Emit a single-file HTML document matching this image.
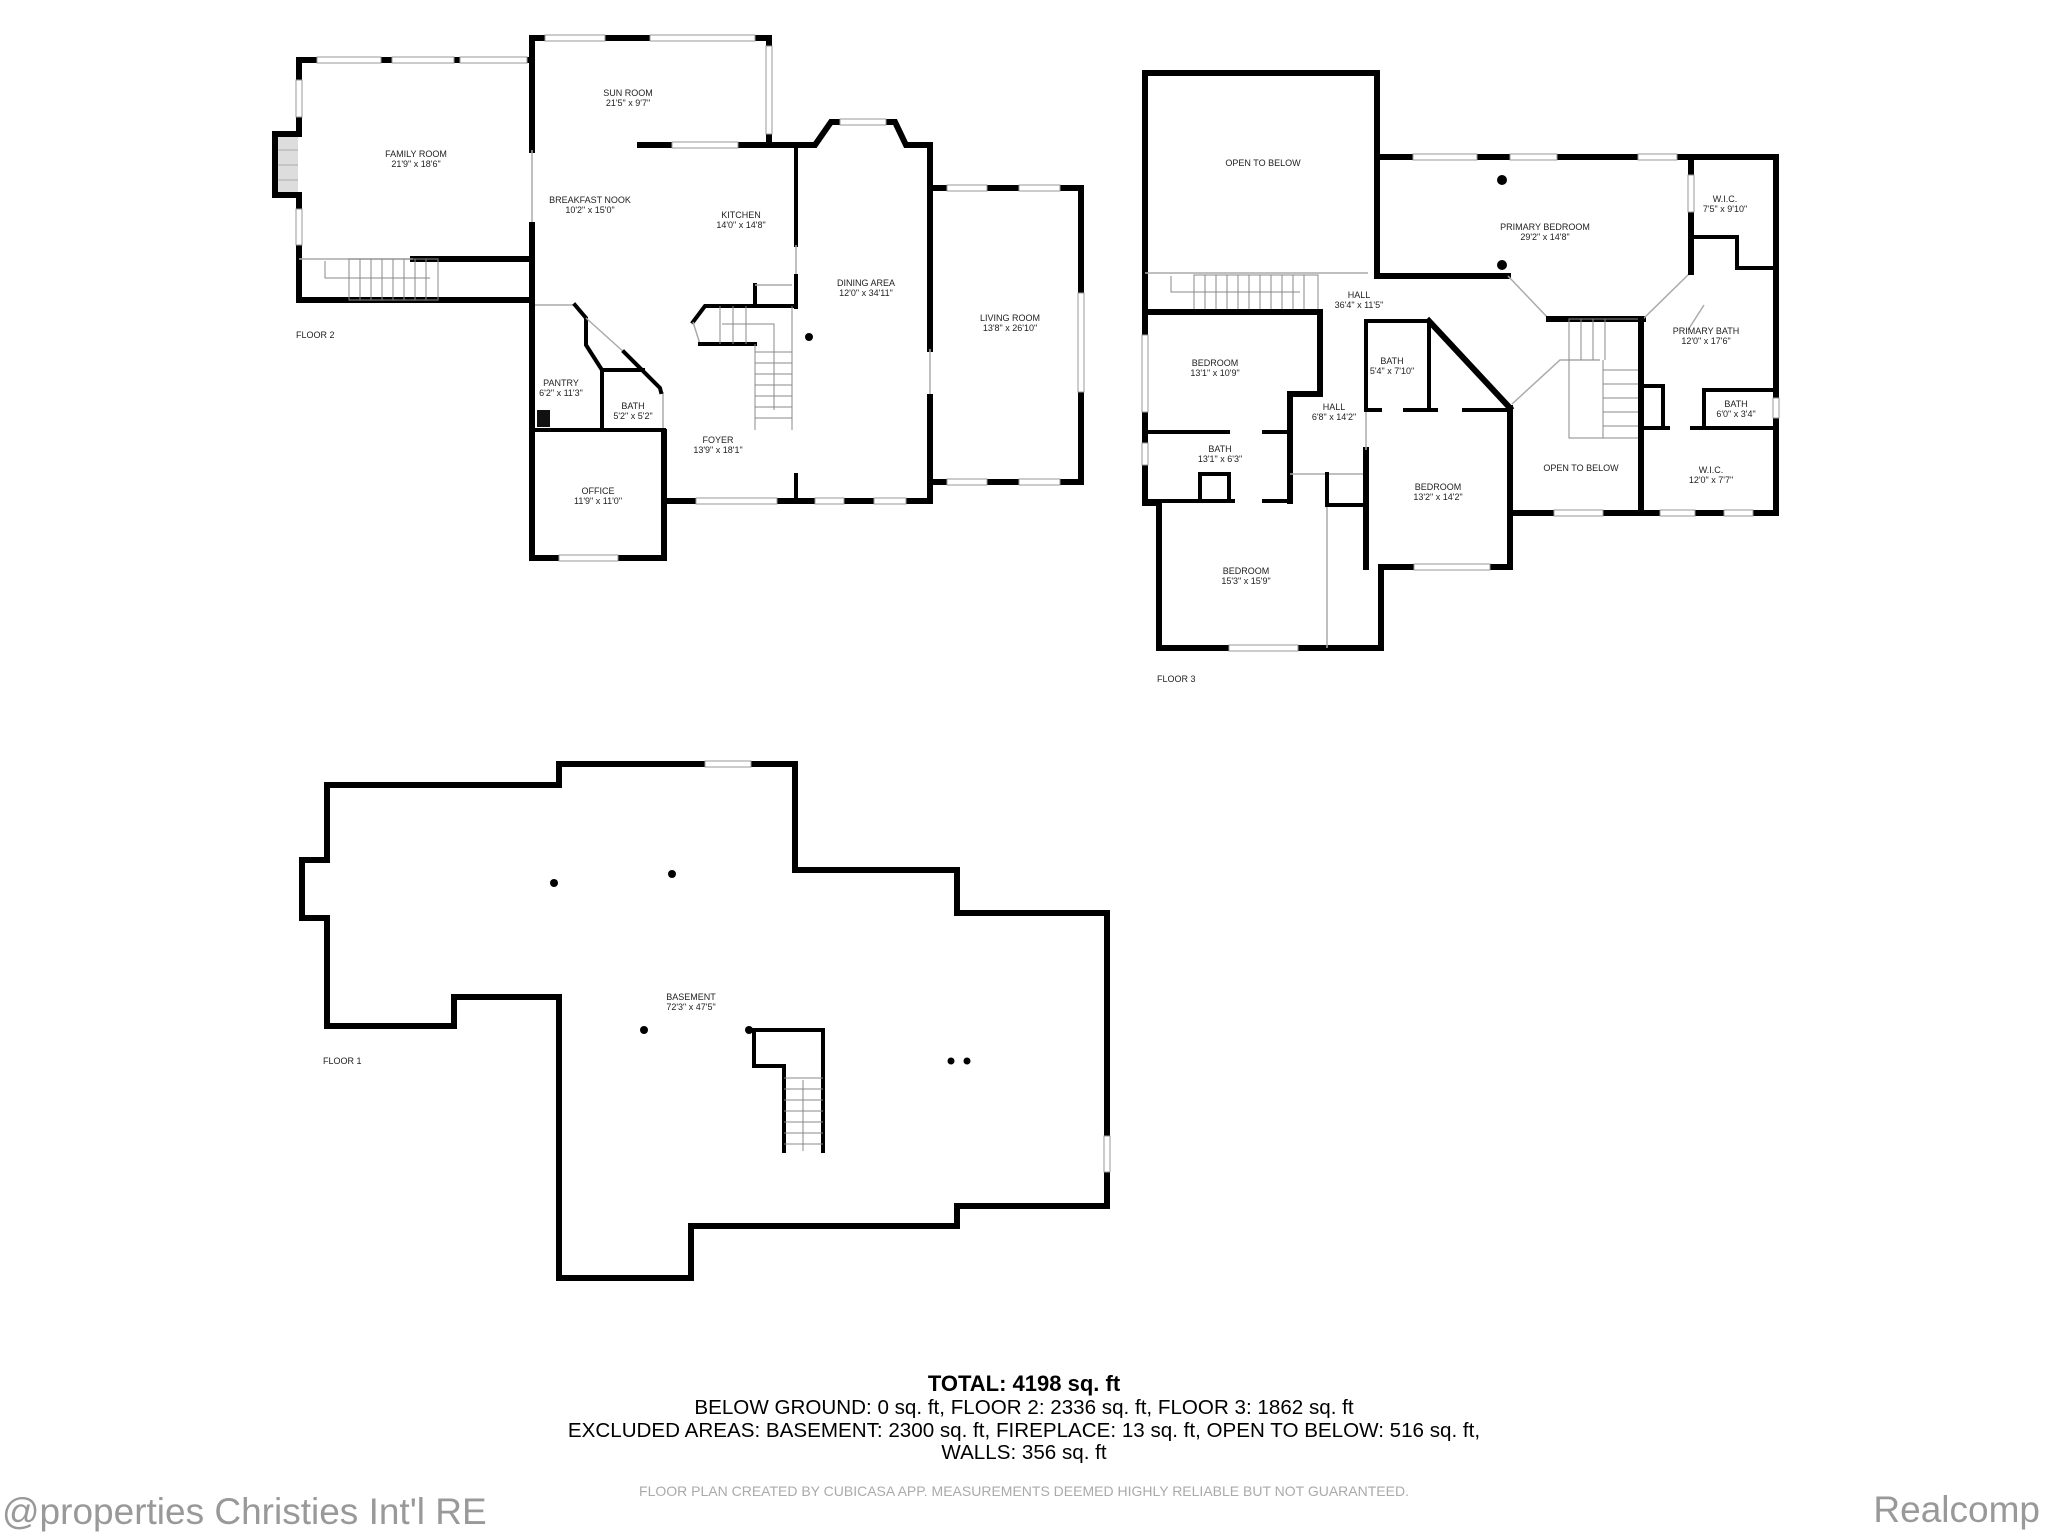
<!DOCTYPE html>
<html><head><meta charset="utf-8"><style>
html,body{margin:0;padding:0;background:#fff;}
svg{display:block;}
.w{fill:none;stroke:#000;stroke-width:6;stroke-linecap:square;stroke-linejoin:miter;}
.t{fill:none;stroke:#000;stroke-width:4;stroke-linecap:square;}
.th{fill:none;stroke:#aaa;stroke-width:1.5;}
.win{fill:#fff;stroke:#999;stroke-width:1;}
.st{fill:none;stroke:#888;stroke-width:1;}
text{font-family:"Liberation Sans",sans-serif;fill:#222;}
.l{font-size:9px;text-anchor:middle;}
</style></head><body>
<svg width="2048" height="1536" viewBox="0 0 2048 1536" xmlns="http://www.w3.org/2000/svg">
<rect width="2048" height="1536" fill="#fff"/>

<!-- ============ FLOOR 2 ============ -->
<rect x="278" y="137" width="20" height="55" fill="#ddd"/>
<g stroke="#aaa" stroke-width="1"><line x1="278" y1="150" x2="298" y2="150"/><line x1="278" y1="165" x2="298" y2="165"/><line x1="278" y1="180" x2="298" y2="180"/></g>
<polyline class="w" points="532,60 299,60 299,134 275,134 275,195 299,195 299,300 532,300"/>
<line class="w" x1="413" y1="259" x2="532" y2="259"/>
<line class="th" x1="299" y1="259" x2="413" y2="259"/>
<rect x="349" y="259" width="89" height="41" class="st"/>
<g class="st"><line x1="360" y1="259" x2="360" y2="300"/><line x1="371" y1="259" x2="371" y2="300"/><line x1="382" y1="259" x2="382" y2="300"/><line x1="393" y1="259" x2="393" y2="300"/><line x1="404" y1="259" x2="404" y2="300"/><line x1="415" y1="259" x2="415" y2="300"/><line x1="426" y1="259" x2="426" y2="300"/><polyline points="325,261 325,278 430,278"/></g>
<polyline class="w" points="532,38 769,38 769,145"/>
<line class="w" x1="532" y1="38" x2="532" y2="150"/>
<line class="th" x1="532" y1="150" x2="532" y2="225"/>
<line class="w" x1="532" y1="225" x2="532" y2="300"/>
<polyline class="w" points="640,145 815,145 831,122 895,122 906,145 930,145 930,349"/>
<line class="th" x1="930" y1="349" x2="930" y2="397"/>
<polyline class="w" points="930,397 930,501 664,501 664,432"/>
<polyline class="w" points="930,188 1081,188 1081,482 930,482"/>
<line class="t" x1="796" y1="148" x2="796" y2="245"/>
<line class="th" x1="796" y1="245" x2="796" y2="276"/>
<line class="t" x1="796" y1="276" x2="796" y2="307"/>
<line class="t" x1="796" y1="475" x2="796" y2="501"/>
<polyline class="w" points="532,300 532,558 664,558 664,470"/>
<line class="th" x1="663" y1="392" x2="663" y2="432"/>
<line class="t" x1="532" y1="430" x2="664" y2="430"/>
<line class="th" x1="535" y1="305" x2="575" y2="305"/>
<polyline class="t" points="575,305 586,318 586,345 602,370 602,430"/>
<line class="t" x1="602" y1="370" x2="643" y2="370"/>
<line class="th" x1="586" y1="318" x2="626" y2="354"/>
<polyline class="t" points="624,352 660,388 661,392"/>
<rect x="537" y="410" width="13" height="17" fill="#111"/>
<polyline class="t" points="792,306 705,306 693,322 "/>
<line class="th" x1="693" y1="322" x2="700" y2="344"/>
<line class="t" x1="700" y1="344" x2="755" y2="344"/>
<line class="t" x1="755" y1="285" x2="755" y2="306"/>
<line class="th" x1="755" y1="285" x2="792" y2="285"/>
<g class="st">
<line x1="755" y1="344" x2="755" y2="430"/><line x1="792" y1="306" x2="792" y2="430"/>
<line x1="720" y1="306" x2="720" y2="344"/><line x1="733" y1="306" x2="733" y2="344"/><line x1="746" y1="306" x2="746" y2="344"/>
<line x1="755" y1="352" x2="792" y2="352"/><line x1="755" y1="363" x2="792" y2="363"/><line x1="755" y1="374" x2="792" y2="374"/><line x1="755" y1="385" x2="792" y2="385"/><line x1="755" y1="396" x2="792" y2="396"/><line x1="755" y1="407" x2="792" y2="407"/><line x1="755" y1="418" x2="792" y2="418"/>
<polyline points="774,410 774,324 722,324"/>
</g>
<circle cx="809" cy="337" r="4" fill="#000"/>
<g class="win">
<rect x="317" y="57" width="64" height="6"/><rect x="392" y="57" width="62" height="6"/><rect x="460" y="57" width="67" height="6"/>
<rect x="296" y="80" width="6" height="37"/><rect x="296" y="209" width="6" height="36"/>
<rect x="545" y="35" width="60" height="6"/><rect x="650" y="35" width="105" height="6"/>
<rect x="766" y="46" width="6" height="88"/>
<rect x="672" y="142" width="66" height="6"/>
<rect x="840" y="119" width="46" height="6"/>
<rect x="947" y="185" width="40" height="6"/><rect x="1019" y="185" width="41" height="6"/>
<rect x="947" y="479" width="40" height="6"/><rect x="1019" y="479" width="41" height="6"/>
<rect x="1078" y="293" width="6" height="99"/>
<rect x="696" y="498" width="81" height="6"/><rect x="815" y="498" width="29" height="6"/><rect x="874" y="498" width="32" height="6"/>
<rect x="559" y="555" width="59" height="6"/>
</g>
<g class="l">
<text x="416" y="157">FAMILY ROOM</text><text x="416" y="167">21'9" x 18'6"</text>
<text x="628" y="96">SUN ROOM</text><text x="628" y="106">21'5" x 9'7"</text>
<text x="590" y="203">BREAKFAST NOOK</text><text x="590" y="213">10'2" x 15'0"</text>
<text x="741" y="218">KITCHEN</text><text x="741" y="228">14'0" x 14'8"</text>
<text x="866" y="286">DINING AREA</text><text x="866" y="296">12'0" x 34'11"</text>
<text x="1010" y="321">LIVING ROOM</text><text x="1010" y="331">13'8" x 26'10"</text>
<text x="561" y="386">PANTRY</text><text x="561" y="396">6'2" x 11'3"</text>
<text x="633" y="409">BATH</text><text x="633" y="419">5'2" x 5'2"</text>
<text x="718" y="443">FOYER</text><text x="718" y="453">13'9" x 18'1"</text>
<text x="598" y="494">OFFICE</text><text x="598" y="504">11'9" x 11'0"</text>
</g>
<text x="296" y="338" style="font-size:9px">FLOOR 2</text>

<!-- ============ FLOOR 3 ============ -->
<polyline class="w" points="1377,157 1377,73 1145,73 1145,503 1159,503 1159,648 1381,648 1381,567 1510,567 1510,513 1776,513 1776,157 1377,157"/>
<polyline class="w" points="1377,157 1377,276 1508,276"/>
<line class="th" x1="1508" y1="276" x2="1549" y2="319"/>
<line class="w" x1="1549" y1="319" x2="1643" y2="319"/>
<line class="th" x1="1643" y1="319" x2="1691" y2="272"/>
<line class="w" x1="1691" y1="157" x2="1691" y2="272"/>
<polyline class="t" points="1693,237 1737,237 1737,268 1776,268"/>
<line class="th" x1="1145" y1="273" x2="1368" y2="273"/>
<g class="st">
<rect x="1194" y="275" width="124" height="35"/>
<line x1="1205" y1="275" x2="1205" y2="310"/><line x1="1216" y1="275" x2="1216" y2="310"/><line x1="1227" y1="275" x2="1227" y2="310"/><line x1="1238" y1="275" x2="1238" y2="310"/><line x1="1249" y1="275" x2="1249" y2="310"/><line x1="1260" y1="275" x2="1260" y2="310"/><line x1="1271" y1="275" x2="1271" y2="310"/><line x1="1282" y1="275" x2="1282" y2="310"/><line x1="1293" y1="275" x2="1293" y2="310"/><line x1="1304" y1="275" x2="1304" y2="310"/>
<polyline points="1171,276 1171,292 1300,292"/>
</g>
<polyline class="w" points="1145,312 1320,312 1320,394 1290,394 1290,501"/>
<line class="t" x1="1145" y1="432" x2="1228" y2="432"/>
<line class="t" x1="1264" y1="432" x2="1290" y2="432"/>
<line class="t" x1="1145" y1="501" x2="1233" y2="501"/>
<line class="t" x1="1264" y1="501" x2="1290" y2="501"/>
<polyline class="t" points="1200,501 1200,474 1229,474 1229,501"/>
<line class="th" x1="1290" y1="474" x2="1366" y2="474"/>
<line class="t" x1="1327" y1="474" x2="1327" y2="505"/>
<line class="th" x1="1327" y1="505" x2="1327" y2="648"/>
<line class="t" x1="1327" y1="505" x2="1366" y2="505"/>
<polyline class="w" points="1366,567 1366,450"/>
<line class="th" x1="1366" y1="410" x2="1366" y2="450"/>
<polyline class="t" points="1366,410 1366,321 1429,321 1429,410"/>
<line class="t" x1="1366" y1="410" x2="1380" y2="410"/>
<line class="t" x1="1405" y1="410" x2="1436" y2="410"/>
<line class="t" x1="1464" y1="410" x2="1510" y2="410"/>
<line class="w" x1="1429" y1="321" x2="1510" y2="408"/>
<line class="w" x1="1510" y1="408" x2="1510" y2="567"/>
<polyline class="th" points="1512,404 1560,360 1600,360"/>
<g class="st">
<rect x="1569" y="319" width="72" height="119"/>
<line x1="1581" y1="319" x2="1581" y2="360"/><line x1="1593" y1="319" x2="1593" y2="360"/><line x1="1605" y1="319" x2="1605" y2="360"/>
<line x1="1603" y1="370" x2="1641" y2="370"/><line x1="1603" y1="384" x2="1641" y2="384"/><line x1="1603" y1="398" x2="1641" y2="398"/><line x1="1603" y1="412" x2="1641" y2="412"/><line x1="1603" y1="426" x2="1641" y2="426"/>
<line x1="1603" y1="360" x2="1603" y2="438"/>
</g>
<line class="w" x1="1641" y1="319" x2="1641" y2="513"/>
<polyline class="t" points="1641,386 1663,386 1663,428"/>
<line class="t" x1="1641" y1="428" x2="1668" y2="428"/>
<line class="t" x1="1692" y1="428" x2="1776" y2="428"/>
<polyline class="t" points="1704,428 1704,390 1776,390"/>
<line class="th" x1="1704" y1="305" x2="1688" y2="330"/>
<circle cx="1502" cy="180" r="5" fill="#000"/><circle cx="1502" cy="265" r="5" fill="#000"/>
<g class="win">
<rect x="1413" y="154" width="64" height="6"/><rect x="1510" y="154" width="47" height="6"/><rect x="1638" y="154" width="39" height="6"/>
<rect x="1142" y="335" width="6" height="77"/><rect x="1142" y="443" width="6" height="22"/>
<rect x="1554" y="510" width="49" height="6"/><rect x="1660" y="510" width="35" height="6"/><rect x="1724" y="510" width="29" height="6"/>
<rect x="1414" y="564" width="76" height="6"/><rect x="1229" y="645" width="69" height="6"/>
<rect x="1773" y="398" width="6" height="20"/>
<rect x="1688" y="175" width="6" height="37"/>
</g>
<g class="l">
<text x="1263" y="166">OPEN TO BELOW</text>
<text x="1545" y="230">PRIMARY BEDROOM</text><text x="1545" y="240">29'2" x 14'8"</text>
<text x="1725" y="202">W.I.C.</text><text x="1725" y="212">7'5" x 9'10"</text>
<text x="1359" y="298">HALL</text><text x="1359" y="308">36'4" x 11'5"</text>
<text x="1215" y="366">BEDROOM</text><text x="1215" y="376">13'1" x 10'9"</text>
<text x="1392" y="364">BATH</text><text x="1392" y="374">5'4" x 7'10"</text>
<text x="1706" y="334">PRIMARY BATH</text><text x="1706" y="344">12'0" x 17'6"</text>
<text x="1334" y="410">HALL</text><text x="1334" y="420">6'8" x 14'2"</text>
<text x="1220" y="452">BATH</text><text x="1220" y="462">13'1" x 6'3"</text>
<text x="1736" y="407">BATH</text><text x="1736" y="417">6'0" x 3'4"</text>
<text x="1581" y="471">OPEN TO BELOW</text>
<text x="1711" y="473">W.I.C.</text><text x="1711" y="483">12'0" x 7'7"</text>
<text x="1438" y="490">BEDROOM</text><text x="1438" y="500">13'2" x 14'2"</text>
<text x="1246" y="574">BEDROOM</text><text x="1246" y="584">15'3" x 15'9"</text>
</g>
<text x="1157" y="682" style="font-size:9px">FLOOR 3</text>

<!-- ============ BASEMENT ============ -->
<polygon class="w" points="327,785 559,785 559,764 795,764 795,870 957,870 957,913 1107,913 1107,1206 957,1206 957,1226 691,1226 691,1278 559,1278 559,997 454,997 454,1026 327,1026 327,918 302,918 302,860 327,860"/>
<rect class="win" x="705" y="761" width="46" height="6"/>
<rect class="win" x="1104" y="1136" width="6" height="36"/>
<circle cx="554" cy="883" r="4" fill="#000"/><circle cx="672" cy="874" r="4" fill="#000"/>
<circle cx="644" cy="1030" r="4" fill="#000"/><circle cx="749" cy="1030" r="4" fill="#000"/>
<circle cx="951" cy="1061" r="3.5" fill="#000"/><circle cx="967" cy="1061" r="3.5" fill="#000"/>
<polyline class="t" points="754,1030 823,1030 823,1151"/>
<polyline class="t" points="754,1030 754,1066 784,1066 784,1151"/>
<g class="st">
<line x1="784" y1="1078" x2="823" y2="1078"/><line x1="784" y1="1089" x2="823" y2="1089"/><line x1="784" y1="1100" x2="823" y2="1100"/><line x1="784" y1="1111" x2="823" y2="1111"/><line x1="784" y1="1122" x2="823" y2="1122"/><line x1="784" y1="1133" x2="823" y2="1133"/><line x1="784" y1="1144" x2="823" y2="1144"/>
<line x1="803" y1="1080" x2="803" y2="1151"/>
</g>
<g class="l"><text x="691" y="1000">BASEMENT</text><text x="691" y="1010">72'3" x 47'5"</text></g>
<text x="323" y="1064" style="font-size:9px">FLOOR 1</text>

<!-- ============ TEXT ============ -->
<g style="text-anchor:middle;">
<text x="1024" y="1391" style="font-size:22px;font-weight:bold;fill:#000">TOTAL: 4198 sq. ft</text>
<text x="1024" y="1414" style="font-size:20.6px;fill:#000">BELOW GROUND: 0 sq. ft, FLOOR 2: 2336 sq. ft, FLOOR 3: 1862 sq. ft</text>
<text x="1024" y="1437" style="font-size:20.6px;fill:#000">EXCLUDED AREAS: BASEMENT: 2300 sq. ft, FIREPLACE: 13 sq. ft, OPEN TO BELOW: 516 sq. ft,</text>
<text x="1024" y="1459" style="font-size:20.6px;fill:#000">WALLS: 356 sq. ft</text>
<text x="1024" y="1496" style="font-size:14px;fill:#aaa">FLOOR PLAN CREATED BY CUBICASA APP. MEASUREMENTS DEEMED HIGHLY RELIABLE BUT NOT GUARANTEED.</text>
</g>
<text x="2" y="1524" style="font-size:37px;fill:#999">@properties Christies Int'l RE</text>
<text x="2040" y="1522" style="font-size:37px;fill:#999;text-anchor:end">Realcomp</text>
</svg>
</body></html>
